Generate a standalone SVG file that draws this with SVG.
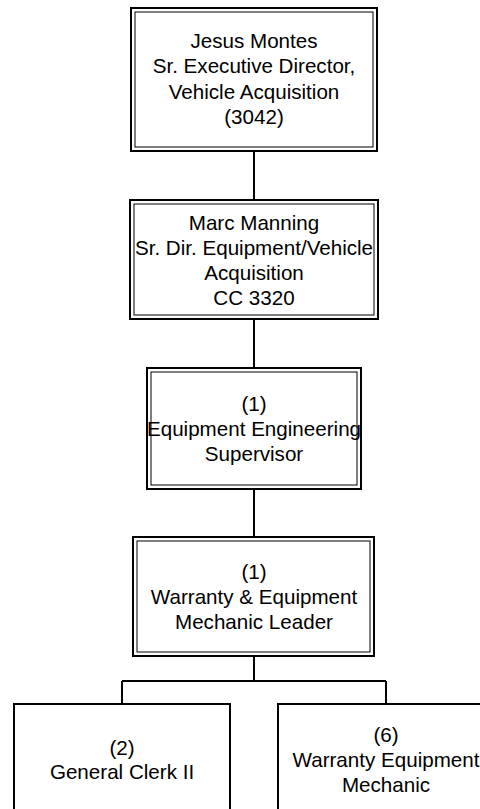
<svg xmlns="http://www.w3.org/2000/svg" width="480" height="809" viewBox="0 0 480 809">
<style>
.outer{fill:#fff;stroke:#000;stroke-width:2}
.inner{fill:none;stroke:#000;stroke-width:1}
.single{fill:#fff;stroke:#000;stroke-width:2}
text{font-family:"Liberation Sans",Arial,sans-serif;font-size:20.6px;fill:#000;text-anchor:middle}
.conn{fill:none;stroke:#000;stroke-width:2}
</style>
<rect width="480" height="809" fill="#fff"/>
<g id="connectors">
<path class="conn" d="M254 151V200M254 319V368M254 489V537M254 656V681M122 681H386M122 681V704M386 681V704"/>
</g>
<g id="node1">
<rect class="outer" x="131" y="8" width="246" height="143"/>
<rect class="inner" x="135" y="12" width="238" height="135"/>
<text x="254" y="47.5">Jesus Montes</text>
<text x="254" y="73">Sr. Executive Director,</text>
<text x="254" y="98.5">Vehicle Acquisition</text>
<text x="254" y="124">(3042)</text>
</g>
<g id="node2">
<rect class="outer" x="130" y="200" width="248" height="119"/>
<rect class="inner" x="134" y="204" width="240" height="111"/>
<text x="254" y="229.5">Marc Manning</text>
<text x="254" y="254.5">Sr. Dir. Equipment/Vehicle</text>
<text x="254" y="279.5">Acquisition</text>
<text x="254" y="304.5">CC 3320</text>
</g>
<g id="node3">
<rect class="outer" x="147" y="368" width="214" height="121"/>
<rect class="inner" x="151" y="372" width="206" height="113"/>
<text x="254" y="411">(1)</text>
<text x="254" y="436">Equipment Engineering</text>
<text x="254" y="461">Supervisor</text>
</g>
<g id="node4">
<rect class="outer" x="133" y="537" width="241" height="119"/>
<rect class="inner" x="137" y="541" width="233" height="111"/>
<text x="254" y="579">(1)</text>
<text x="254" y="604">Warranty &amp; Equipment</text>
<text x="254" y="629">Mechanic Leader</text>
</g>
<g id="node5">
<rect class="single" x="14" y="704" width="216" height="114"/>
<text x="122" y="755">(2)</text>
<text x="122" y="779">General Clerk II</text>
</g>
<g id="node6">
<rect class="single" x="278" y="704" width="216" height="114"/>
<text x="386" y="742">(6)</text>
<text x="386" y="767">Warranty Equipment</text>
<text x="386" y="792">Mechanic</text>
</g>
</svg>
